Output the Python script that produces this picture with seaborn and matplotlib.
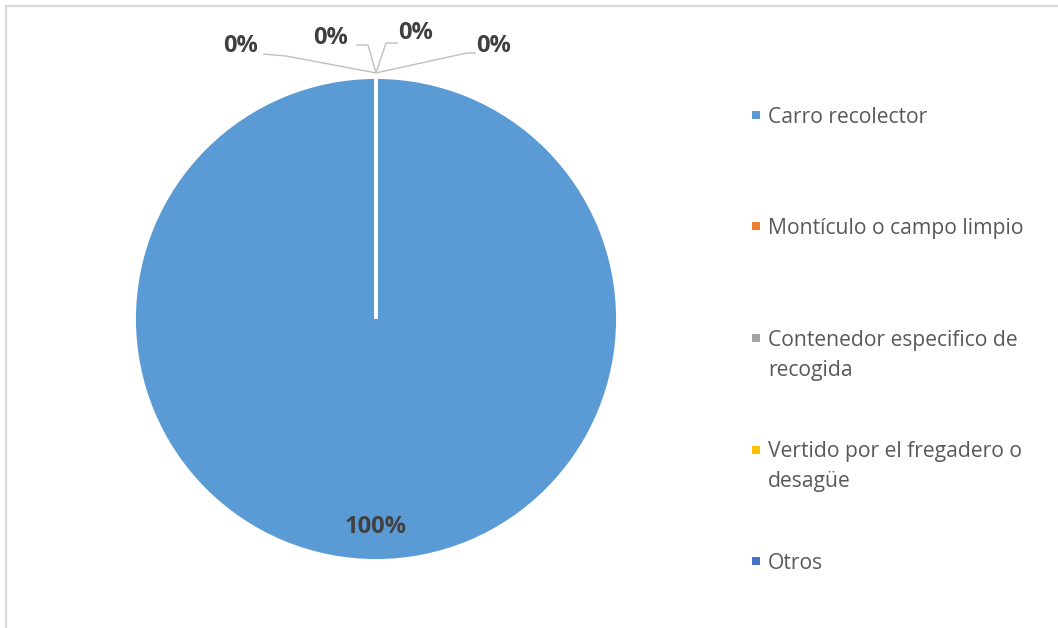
import matplotlib
matplotlib.use("Agg")
import matplotlib.pyplot as plt
import seaborn as sns
import numpy as np
from matplotlib.lines import Line2D
from matplotlib.patches import Rectangle

# Destino de los residuos (porcentaje de hogares)
categorias = [
    "Carro recolector",
    "Montículo o campo limpio",
    "Contenedor especifico de\nrecogida",
    "Vertido por el fregadero o\ndesagüe",
    "Otros",
]
porcentajes = [100, 0, 0, 0, 0]
colores = ["#5B9BD5", "#ED7D31", "#A5A5A5", "#FFC000", "#4472C4"]

sns.set_theme(style="white")
plt.rcParams["font.family"] = ["Open Sans", "DejaVu Sans"]

W, H = 1058, 628
fig = plt.figure(figsize=(W / 100, H / 100), dpi=100)
fig.patch.set_facecolor("white")

# marco del gráfico (solo bordes superior e izquierdo visibles)
fig.add_artist(Line2D([6 / W, 1], [1 - 6 / H, 1 - 6 / H], transform=fig.transFigure,
                      color="#D9D9D9", lw=1.6))
fig.add_artist(Line2D([6 / W, 6 / W], [0, 1 - 6 / H], transform=fig.transFigure,
                      color="#D9D9D9", lw=1.6))

# ejes cuadrados para la tarta: centro (376, 319), radio 242 px
cx, cy, R = 376, 319, 242
ax = fig.add_axes([(cx - R) / W, (H - cy - R) / H, 2 * R / W, 2 * R / H])

wedges, _ = ax.pie(
    porcentajes, colors=colores, startangle=90, counterclock=False, radius=1.0,
    wedgeprops=dict(edgecolor="white", linewidth=2.8),
)
ax.set_xlim(-1, 1)
ax.set_ylim(-1, 1)
ax.set_aspect("equal")
ax.axis("off")

def px(x, y):
    """píxeles de figura -> coordenadas de datos de la tarta"""
    return (x - cx) / R, (cy - y) / R

lbl_kw = dict(fontsize=17, fontweight="bold", color="#404040",
              ha="center", va="center")

# etiqueta del sector principal
for w, v in zip(wedges, porcentajes):
    if v > 0:
        mid = np.deg2rad((w.theta1 + w.theta2) / 2)
        ax.text(0.86 * np.cos(mid), 0.86 * np.sin(mid), f"{v:.0f}%", **lbl_kw)

# etiquetas de los sectores nulos con líneas guía
pos_etiquetas = [(241, 46), (331, 38), (416, 33), (494, 46)]
codos = [[(263, 54), (286, 56)], [(356, 45), (368, 45)],
         [(398, 43), (386, 43)], [(476, 53), (467, 53)]]
ceros = [(w, v) for w, v in zip(wedges, porcentajes) if v == 0]
for (w, v), (lx, ly), codo in zip(ceros, pos_etiquetas, codos):
    ang = np.deg2rad(w.theta1)
    ax_, ay_ = 1.017 * np.cos(ang), 1.017 * np.sin(ang)
    pts = [px(*p) for p in codo] + [(ax_, ay_)]
    xs, ys = zip(*pts)
    ax.plot(xs, ys, color="#BFBFBF", lw=1.0, clip_on=False, solid_capstyle="butt")
    tx, ty = px(lx, ly)
    ax.text(tx, ty, f"{v:.0f}%", clip_on=False, **lbl_kw)

# leyenda: marcador alineado con la primera línea de cada entrada
y0, paso, interlinea = 115, 111.5, 30
for i, (cat, col) in enumerate(zip(categorias, colores)):
    yy = y0 + i * paso
    fig.add_artist(Rectangle((752 / W, 1 - (yy + 4) / H), 8 / W, 8 / H,
                             transform=fig.transFigure, facecolor=col, edgecolor="none"))
    for k, linea in enumerate(cat.split("\n")):
        fig.text(768 / W, 1 - (yy + k * interlinea) / H, linea, fontsize=15.2,
                 color="#595959", ha="left", va="center_baseline")

fig.savefig("out.png", dpi=100, facecolor="white")
